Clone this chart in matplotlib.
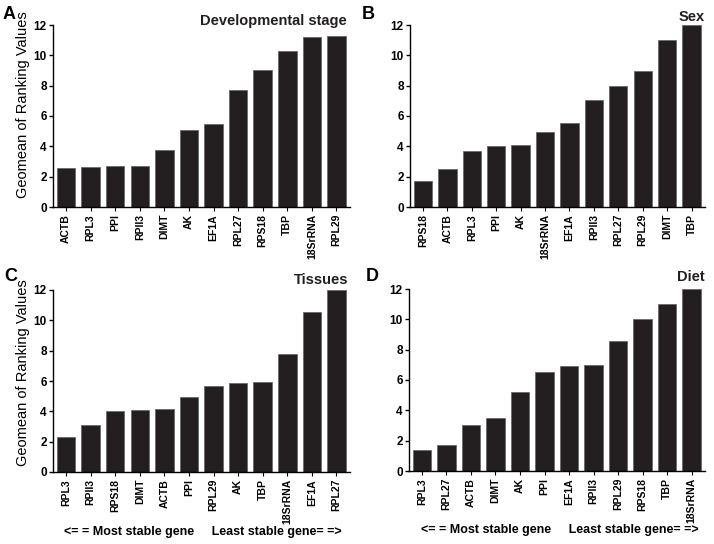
import matplotlib
matplotlib.use('Agg')
import matplotlib.pyplot as plt

plt.rcParams['font.family'] = ['Liberation Sans', 'DejaVu Sans']

# panel A: developmental stage
genes_a = ['ACTB', 'RPL3', 'PPI', 'RPII3', 'DIMT', 'AK', 'EF1A', 'RPL27', 'RPS18', 'TBP', '18SrRNA', 'RPL29']
vals_a = [2.57, 2.65, 2.69, 2.69, 3.78, 5.07, 5.44, 7.74, 9.02, 10.3, 11.22, 11.3]

# panel B: sex
genes_b = ['RPS18', 'ACTB', 'RPL3', 'PPI', 'AK', '18SrRNA', 'EF1A', 'RPII3', 'RPL27', 'RPL29', 'DIMT', 'TBP']
vals_b = [1.71, 2.5, 3.72, 4.0, 4.06, 4.95, 5.52, 7.07, 8.0, 8.98, 11.04, 12.0]

# panel C: tissues
genes_c = ['RPL3', 'RPII3', 'RPS18', 'DIMT', 'ACTB', 'PPI', 'RPL29', 'AK', 'TBP', '18SrRNA', 'EF1A', 'RPL27']
vals_c = [2.28, 3.1, 4.05, 4.12, 4.18, 4.93, 5.67, 5.87, 5.91, 7.8, 10.53, 12.0]

# panel D: diet
genes_d = ['RPL3', 'RPL27', 'ACTB', 'DIMT', 'AK', 'PPI', 'EF1A', 'RPII3', 'RPL29', 'RPS18', 'TBP', '18SrRNA']
vals_d = [1.36, 1.73, 3.05, 3.47, 5.2, 6.53, 6.93, 6.97, 8.55, 10.04, 11.03, 12.0]

W, H = 714, 544
fig = plt.figure(figsize=(7.14, 5.44), dpi=100)

def add_ax(l, t, r, b):
    return fig.add_axes([l / W, 1 - b / H, (r - l) / W, (b - t) / H])

def draw(ax, genes, vals, ylab_y=None):
    x = list(range(len(genes)))
    ax.bar(x, vals, width=0.75, color='#231f20', edgecolor='#6a6a6a', linewidth=0.6)
    ax.set_xlim(-0.53, len(genes) - 0.45)
    ax.set_ylim(0, 12)
    ax.set_yticks([0, 2, 4, 6, 8, 10, 12])
    ax.set_xticks(x)
    ax.set_xticklabels(genes, rotation=90, fontsize=7.5, fontweight='bold')
    for lab in ax.get_yticklabels():
        lab.set_fontsize(8.5)
        lab.set_fontweight('bold')
    ax.spines['top'].set_visible(False)
    ax.spines['right'].set_visible(False)
    ax.spines['left'].set_linewidth(1.0)
    ax.spines['bottom'].set_linewidth(1.0)
    ax.tick_params(axis='y', direction='out', length=3, width=1, pad=1.5)
    ax.tick_params(axis='x', direction='out', length=3, width=0.8, pad=2)
    if ylab_y is not None:
        ax.set_ylabel('Geomean of Ranking Values', fontsize=10.5)
        ax.yaxis.set_label_coords(-0.076, ylab_y)

ax_a = add_ax(53, 25, 350, 207)
draw(ax_a, genes_a, vals_a, 0.565)
ax_b = add_ax(410, 25, 705, 207)
draw(ax_b, genes_b, vals_b)
ax_c = add_ax(53, 290, 350, 472)
draw(ax_c, genes_c, vals_c, 0.545)
ax_d = add_ax(409, 289, 705, 471)
draw(ax_d, genes_d, vals_d)

# panel titles, placed by baseline
for title, px, py in [('Developmental stage', 347, 25), ('Sex', 705, 21),
                      ('Tissues', 348, 284), ('Diet', 705, 281)]:
    fig.text(px / W, 1 - py / H, title, fontsize=10.5, fontweight='bold',
             ha='right', va='baseline', color='#231f20')

for letter, px, py in [('A', 3, 6), ('B', 362, 6), ('C', 4, 268), ('D', 366, 268)]:
    fig.text(px / W, 1 - py / H, letter, fontsize=13, fontweight='bold', va='top', ha='left')

footer = '<= = Most stable gene     Least stable gene= =>'
fig.text(203 / W, 1 - 532 / H, footer, fontsize=9, fontweight='bold', ha='center', va='center')
fig.text(560 / W, 1 - 530 / H, footer, fontsize=9, fontweight='bold', ha='center', va='center')

fig.savefig('out.png', dpi=100)
